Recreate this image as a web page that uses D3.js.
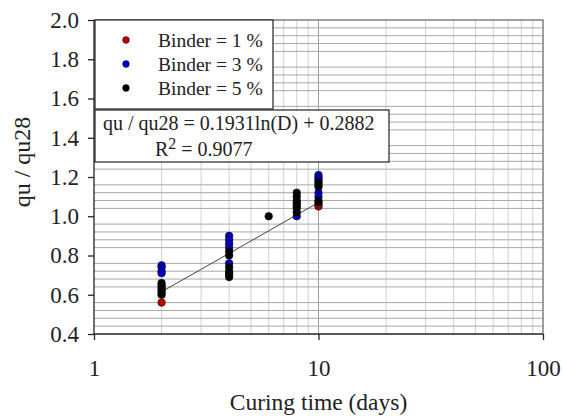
<!DOCTYPE html>
<html><head><meta charset="utf-8">
<script src="https://cdn.jsdelivr.net/npm/d3@7"></script>
<style>body{margin:0;background:#fff}svg{display:block}svg text{font-family:"Liberation Serif","Times New Roman",Times,"DejaVu Serif",serif !important;fill:#222}</style>
</head><body><svg id="c" width="562" height="418"></svg>
<script>
const xTicks = [1, 10, 100];
const yTicks = [0.4, 0.6, 0.8, 1.0, 1.2, 1.4, 1.6, 1.8, 2.0];
const seriesNames = ["Binder = 1 %", "Binder = 3 %", "Binder = 5 %"];
const seriesColors = ["#c00000", "#0000c8", "#000000"];
const red1X = [2, 10, 10];
const red1Y = [0.56, 1.05, 1.06];
const blue3X = [2,2,2,2, 4,4,4,4,4, 8,8,8, 10,10,10,10,10,10];
const blue3Y = [0.75,0.74,0.72,0.71, 0.90,0.88,0.86,0.84,0.76, 1.07,1.05,1.00, 1.21,1.20,1.19,1.18,1.12,1.10];
const black5X = [2,2,2,2,2,2,2, 4,4,4,4,4,4,4, 6, 8,8,8,8,8,8, 10,10,10,10,10];
const black5Y = [0.66,0.65,0.64,0.63,0.62,0.61,0.60, 0.82,0.80,0.74,0.72,0.71,0.70,0.69, 1.00, 1.12,1.10,1.08,1.06,1.04,1.02, 1.17,1.16,1.15,1.08,1.07];
const trendX = [2, 10];
const trendY = [0.615, 1.07];
const equation = "qu / qu28 = 0.1931ln(D) + 0.2882";
const r2Text = "0.9077";

const FONT = '"Liberation Serif","Times New Roman",Times,serif';
const svg = d3.select("#c").attr("font-family", FONT);
const L = 94, R = 543, T = 20, B = 334;
const x = d3.scaleLog().domain([1, 100]).range([L, R]);
const y = d3.scaleLinear().domain([0.4, 2.0]).range([B, T]);

// vertical grid
const vg = [];
for (let d = 1; d <= 10; d *= 10) for (let k = 2; k <= 9; k++) vg.push(k * d);
vg.push(10);
svg.append("g").selectAll("line").data(vg).join("line")
  .attr("x1", d => x(d)).attr("x2", d => x(d)).attr("y1", T).attr("y2", B)
  .attr("stroke", d => d === 10 ? "#a0a0a0" : "#d0d0d0").attr("stroke-width", 1);
// horizontal minor grid (every 0.04, skipping majors)
const hg = d3.range(0.44, 2.0, 0.04).filter(v => Math.abs(v * 5 - Math.round(v * 5)) > 0.01);
svg.append("g").selectAll("line").data(hg).join("line")
  .attr("x1", L).attr("x2", R).attr("y1", d => y(d)).attr("y2", d => y(d))
  .attr("stroke", "#a8a8a8").attr("stroke-width", 1);

// frame top/right
svg.append("path").attr("d", `M${L},${T}H${R}V${B}`).attr("fill", "none").attr("stroke", "#808080").attr("stroke-width", 1.5);

// axes
const yAxis = d3.axisLeft(y).tickValues(yTicks).tickFormat(d3.format(".1f")).tickSize(6).tickPadding(9);
const gy = svg.append("g").attr("transform", `translate(${L},0)`).call(yAxis);
const xAxis = d3.axisBottom(x).tickValues(xTicks).tickFormat(d3.format("d")).tickSize(6).tickPadding(20);
const gx = svg.append("g").attr("transform", `translate(0,${B})`).call(xAxis);
[gx, gy].forEach(g => {
  g.attr("font-family", FONT).attr("font-size", 23);
  g.select(".domain").attr("stroke", "#222").attr("stroke-width", 1.3);
  g.selectAll(".tick line").attr("stroke", "#222").attr("stroke-width", 1.3);
  g.selectAll("text").attr("fill", "#222");
});
gy.select(".domain").attr("d", `M0,${T}V${B}`);
gx.select(".domain").attr("d", `M${L},0H${R}`);

// trend line
svg.append("path").datum(trendX.map((d, i) => [d, trendY[i]]))
  .attr("d", d3.line().x(d => x(d[0])).y(d => y(d[1])))
  .attr("stroke", "#444").attr("stroke-width", 1).attr("fill", "none");

// points
const series = [[red1X, red1Y], [blue3X, blue3Y], [black5X, black5Y]];
series.forEach((s, i) => {
  svg.append("g").selectAll("circle").data(s[0].map((d, j) => [d, s[1][j]])).join("circle")
    .attr("cx", d => x(d[0])).attr("cy", d => y(d[1])).attr("r", 3.8)
    .attr("fill", seriesColors[i]).attr("stroke", "#111").attr("stroke-width", 0.6);
});

// legend box
svg.append("rect").attr("x", 95).attr("y", 20).attr("width", 178).attr("height", 89)
  .attr("fill", "#fff").attr("stroke", "#222").attr("stroke-width", 1.2);
seriesNames.forEach((n, i) => {
  const cy = 40 + i * 24;
  svg.append("circle").attr("cx", 126).attr("cy", cy).attr("r", 3.4).attr("fill", seriesColors[i]).attr("stroke", "#111").attr("stroke-width", 0.5);
  svg.append("text").attr("x", 158).attr("y", cy + 7).attr("font-size", 19.5).text(n);
});

// equation box
svg.append("rect").attr("x", 95).attr("y", 110).attr("width", 294).attr("height", 52)
  .attr("fill", "#fff").attr("stroke", "#222").attr("stroke-width", 1.2);
svg.append("text").attr("x", 103).attr("y", 130).attr("font-size", 20).text(equation);
const r2 = svg.append("text").attr("x", 155).attr("y", 156).attr("font-size", 20);
r2.append("tspan").text("R");
r2.append("tspan").attr("dy", -7).attr("font-size", 16).text("2");
r2.append("tspan").attr("dy", 7).text(" = " + r2Text);

// axis titles
svg.append("text").attr("x", x(10)).attr("y", 410).attr("text-anchor", "middle").attr("font-size", 23.5).text("Curing time (days)");
svg.append("text").attr("transform", `translate(30,162) rotate(-90)`).attr("text-anchor", "middle").attr("font-size", 24).text("qu / qu28");
</script></body></html>
